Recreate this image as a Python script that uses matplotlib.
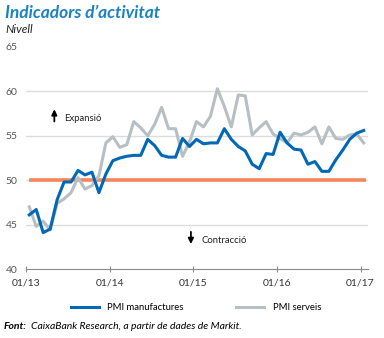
import matplotlib
matplotlib.use("Agg")
import matplotlib.pyplot as plt
import numpy as np

# PMI monthly, 01/2013 .. 01/2017
pmi_manufactures = [
    46.1, 46.7, 44.1, 44.5, 47.8, 49.8, 49.8, 51.1, 50.6, 50.9, 48.6, 50.7,
    52.2, 52.5, 52.7, 52.8, 52.8, 54.6, 53.9, 52.8, 52.6, 52.6, 54.7, 53.8,
    54.6, 54.1, 54.2, 54.2, 55.8, 54.6, 53.8, 53.3, 51.8, 51.3, 53.0, 52.9,
    55.4, 54.2, 53.5, 53.4, 51.8, 52.1, 51.0, 51.0, 52.3, 53.4, 54.6, 55.3,
    55.6,
]
pmi_serveis = [
    47.0, 44.8, 45.4, 44.4, 47.4, 47.9, 48.6, 50.3, 49.0, 49.4, 50.5, 54.2,
    54.9, 53.7, 54.0, 56.6, 55.9, 55.0, 56.3, 58.2, 55.8, 55.8, 52.7, 54.3,
    56.6, 56.0, 57.2, 60.3, 58.3, 56.0, 59.6, 59.5, 55.1, 55.9, 56.6, 55.2,
    54.7, 54.2, 55.3, 55.1, 55.4, 56.0, 54.1, 56.0, 54.7, 54.6, 55.1, 55.2,
    54.2,
]
tick_labels = ["01/13", "01/14", "01/15", "01/16", "01/17"]
y_ticks = [40, 45, 50, 55, 60, 65]

BLUE = "#0068b4"
GREY = "#b7bfc3"
ORANGE = "#f3865c"

plt.rcParams["font.family"] = ["Lato", "DejaVu Sans"]

fig = plt.figure(figsize=(3.84, 3.38), dpi=100)
ax = fig.add_axes([0.068, 0.204, 0.89, 0.657])

months = np.arange(len(pmi_manufactures))

for y in y_ticks[1:-1]:
    ax.axhline(y, color="#dcdcdc", linewidth=1.0, zorder=0)
ax.plot([-0.1, 48.3], [50, 50], color=ORANGE, linewidth=2.6, zorder=1,
        solid_capstyle="butt")

ax.plot(months, pmi_serveis, color=GREY, linewidth=2.2, zorder=2,
        label="PMI serveis")
ax.plot(months, pmi_manufactures, color=BLUE, linewidth=2.2, zorder=3,
        label="PMI manufactures")

ax.set_xlim(-0.45, 48.6)
ax.set_ylim(40, 65)
ax.set_yticks(y_ticks)
ax.set_xticks([i * 12 - 0.45 for i in range(len(tick_labels))])
ax.set_xticklabels(tick_labels)

for s in ["top", "right", "left"]:
    ax.spines[s].set_visible(False)
ax.spines["bottom"].set_color("#8c8c8c")
ax.spines["bottom"].set_linewidth(0.8)
ax.tick_params(axis="x", direction="inout", length=4, width=0.8,
               color="#8c8c8c", labelsize=7.5, labelcolor="#333333", pad=5)
ax.tick_params(axis="y", length=0, labelsize=7.5, labelcolor="#555555", pad=6)

ax.annotate("", xy=(3.6, 58.3), xytext=(3.6, 56.3),
            arrowprops=dict(arrowstyle="-|>", color="black", lw=1.3,
                            mutation_scale=8))
ax.text(5.0, 57.0, "Expansió", fontsize=6.8, va="center", color="#222222")
ax.annotate("", xy=(23.2, 42.5), xytext=(23.2, 44.5),
            arrowprops=dict(arrowstyle="-|>", color="black", lw=1.3,
                            mutation_scale=8))
ax.text(24.7, 43.2, "Contracció", fontsize=6.8, va="center", color="#222222")

fig.text(0.013, 0.962, "Indicadors d’activitat", fontsize=12.5,
         fontweight="bold", fontstyle="italic", color="#1a82c4", va="center")
fig.text(0.013, 0.913, "Nivell", fontsize=8.5, fontstyle="italic",
         color="#222222", va="center")

h, l = ax.get_legend_handles_labels()
fig.legend(h[::-1], l[::-1], loc="center", bbox_to_anchor=(0.51, 0.09),
           ncol=2, frameon=False, fontsize=6.8, handlelength=3.0,
           columnspacing=5.5, handletextpad=0.9)

fig.text(0.01, 0.035, "Font:", fontsize=7.5, fontweight="bold",
         fontstyle="italic", va="center")
fig.text(0.082, 0.035, "CaixaBank Research, a partir de dades de Markit.",
         fontsize=7.5, fontstyle="italic", va="center")

fig.savefig("out.png", dpi=100)
